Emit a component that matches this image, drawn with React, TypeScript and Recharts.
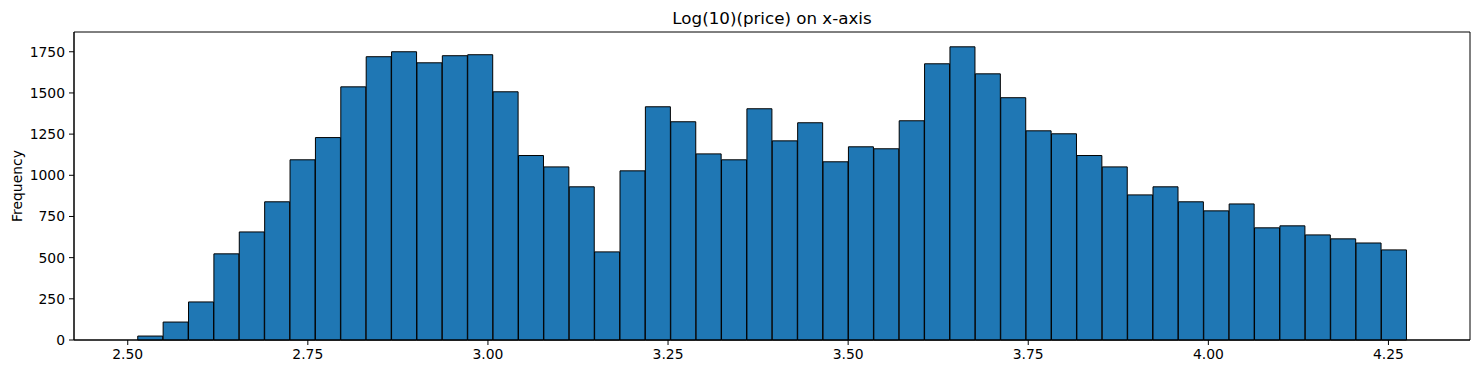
import { ComposedChart, Bar, XAxis, YAxis, ReferenceArea, Label } from 'recharts'

// Histogram of log10(price), 50 equal bins
const BIN_START = 2.5139
const BIN_END = 4.2755
const COUNTS = [
  24, 109, 231, 523, 656, 839, 1094, 1229, 1537, 1720,
  1750, 1683, 1726, 1732, 1507, 1120, 1051, 930, 535, 1027,
  1416, 1325, 1130, 1094, 1404, 1209, 1319, 1082, 1173, 1161,
  1331, 1677, 1780, 1616, 1471, 1270, 1252, 1120, 1051, 881,
  930, 839, 784, 826, 681, 693, 638, 614, 589, 547,
]

const X_TICKS = [2.5, 2.75, 3.0, 3.25, 3.5, 3.75, 4.0, 4.25]
const Y_TICKS = [0, 250, 500, 750, 1000, 1250, 1500, 1750]
const X_MIN = 2.4254
const X_MAX = 4.3632
const Y_MAX = 1870

const FONT = "'DejaVu Sans', sans-serif"

const binWidth = (BIN_END - BIN_START) / COUNTS.length
const data = COUNTS.map((count, i) => ({
  center: BIN_START + binWidth * (i + 0.5),
  count,
}))

export default function App() {
  const tickStyle = { fill: '#000', fontSize: 13.9, fontFamily: FONT }

  return (
    <div style={{ position: 'absolute', left: 0, top: 0, background: '#fff', fontFamily: FONT }}>
      <ComposedChart
        width={1479}
        height={374}
        data={data}
        margin={{ top: 32, right: 9, bottom: 4, left: 0 }}
        barCategoryGap={0}
        barGap={0}
      >
        <XAxis
          dataKey="center"
          type="number"
          domain={[X_MIN, X_MAX]}
          ticks={X_TICKS}
          tickFormatter={(v: number) => v.toFixed(2)}
          tick={tickStyle}
          tickSize={5}
          tickMargin={4}
          height={30}
          axisLine={{ stroke: '#000' }}
          tickLine={{ stroke: '#000' }}
        />
        <YAxis
          type="number"
          domain={[0, Y_MAX]}
          ticks={Y_TICKS}
          tick={tickStyle}
          tickSize={5}
          tickMargin={4}
          width={74}
          axisLine={{ stroke: '#000' }}
          tickLine={{ stroke: '#000' }}
        >
          <Label
            value="Frequency"
            angle={-90}
            position="insideLeft"
            offset={17}
            style={{ textAnchor: 'middle', fill: '#000', fontSize: 13.9, fontFamily: FONT }}
          />
        </YAxis>
        <Bar
          dataKey="count"
          fill="#1f77b4"
          stroke="#000"
          strokeWidth={1}
          isAnimationActive={false}
        />
        <ReferenceArea
          x1={X_MIN}
          x2={X_MAX}
          y1={0}
          y2={Y_MAX}
          fill="none"
          fillOpacity={0}
          stroke="#000"
          strokeWidth={1}
          strokeOpacity={1}
        >
          <Label
            value="Log(10)(price) on x-axis"
            position="top"
            offset={8}
            style={{ fill: '#000', fontSize: 16.7, fontFamily: FONT }}
          />
        </ReferenceArea>
      </ComposedChart>
    </div>
  )
}
